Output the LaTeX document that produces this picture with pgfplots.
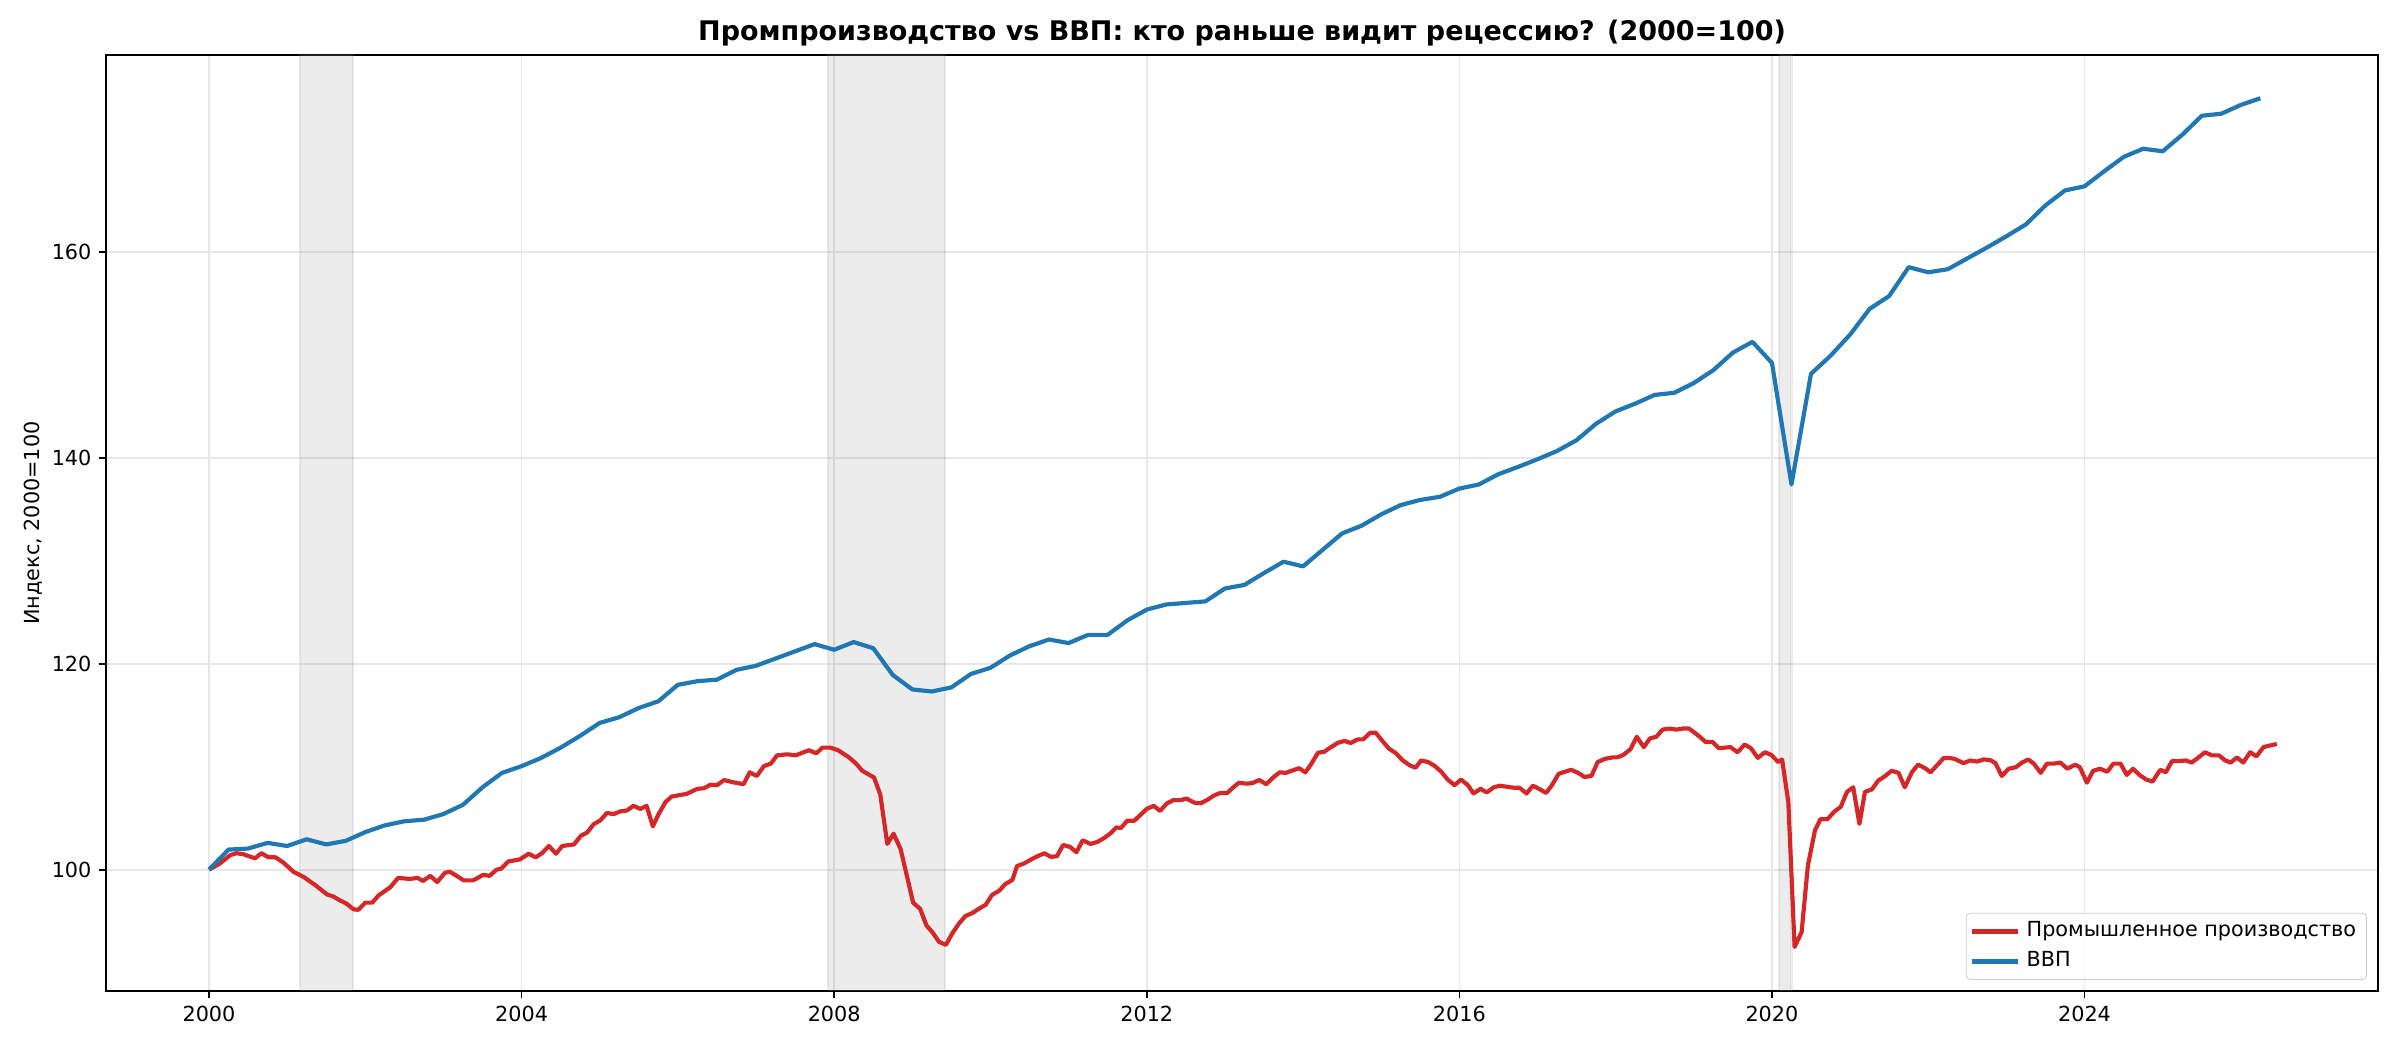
\documentclass[border=0pt]{standalone}
\usepackage{fontspec}
\setmainfont{DejaVu Sans}
\usepackage{pgfplots}
\pgfplotsset{compat=1.18}
\definecolor{ipred}{HTML}{D62728}
\definecolor{gdpblue}{HTML}{1F77B4}
\definecolor{gridc}{HTML}{E7E7E7}
\begin{document}
\begin{tikzpicture}
\useasboundingbox (0,0) rectangle (1152bp,504bp);
\begin{axis}[
  name=ax,
  at={(50.88bp,28.32bp)}, anchor=south west,
  scale only axis, width=1090.56bp, height=449.28bp,
  xmin=1998.682, xmax=2027.755, ymin=88.22, ymax=179.1,
  xtick={2000,2004,...,2024}, ytick={100,120,140,160},
  /pgf/number format/1000 sep={},
  /pgf/number format/assume math mode=true,
  tick label style={font=\fontsize{10}{12}\selectfont},
  tick align=outside, major tick length=3.5bp, tick pos=left,
  tick style={black, line width=0.8bp},
  axis line style={black, line width=0.8bp},
  grid=major, major grid style={gridc, line width=0.8bp},
  ylabel={Индекс, 2000=100},
  ylabel style={at={(axis description cs:-0.0321,0.5)}, anchor=center, font=\fontsize{10}{12}\selectfont},
  every axis title/.style={at={(0.5,1)}, anchor=base, yshift=6.72bp, font=\bfseries\fontsize{13}{15}\selectfont},
  title={Промпроизводство vs ВВП: кто раньше видит рецессию? (2000=100)},
  legend style={at={(1,0)}, anchor=south east, xshift=-5.3bp, yshift=5.3bp,
    draw=black!20, rounded corners=2bp, fill=white, fill opacity=0.8, text opacity=1,
    font=\fontsize{10}{12}\selectfont, inner xsep=2bp, inner ysep=1.5bp,
    nodes={text height=7.5bp, text depth=2.5bp, inner ysep=2.2bp, inner xsep=3bp}},
  legend cell align=left,
  legend image code/.code={\draw[#1] (0bp,0bp) -- (22bp,0bp);},
]
\addplot[forget plot, fill=gray, fill opacity=0.15, draw=gray, draw opacity=0.15, line width=1bp]
  coordinates {(2001.17,88.22) (2001.17,179.1) (2001.84,179.1) (2001.84,88.22)} -- cycle;
\addplot[forget plot, fill=gray, fill opacity=0.15, draw=gray, draw opacity=0.15, line width=1bp]
  coordinates {(2007.92,88.22) (2007.92,179.1) (2009.42,179.1) (2009.42,88.22)} -- cycle;
\addplot[forget plot, fill=gray, fill opacity=0.15, draw=gray, draw opacity=0.15, line width=1bp]
  coordinates {(2020.09,88.22) (2020.09,179.1) (2020.25,179.1) (2020.25,88.22)} -- cycle;

\addplot[ipred, line width=2bp, line join=round] coordinates {
(2000.00,100.0) (2000.14,100.6) (2000.27,101.4) (2000.35,101.6) (2000.44,101.5) (2000.59,101.1)
(2000.67,101.6) (2000.76,101.2) (2000.85,101.2) (2000.95,100.7) (2001.08,99.8) (2001.21,99.3)
(2001.36,98.5) (2001.51,97.6) (2001.59,97.4) (2001.68,97.0) (2001.76,96.7) (2001.85,96.15)
(2001.91,96.1) (2002.00,96.8) (2002.09,96.8) (2002.17,97.5) (2002.32,98.3) (2002.42,99.2)
(2002.57,99.1) (2002.67,99.2) (2002.74,98.9) (2002.83,99.4) (2002.92,98.8) (2003.02,99.7)
(2003.08,99.8) (2003.17,99.4) (2003.26,98.96) (2003.38,98.96) (2003.51,99.5) (2003.59,99.4)
(2003.68,100.0) (2003.74,100.1) (2003.83,100.8) (2003.98,101.0) (2004.09,101.55) (2004.18,101.2)
(2004.26,101.6) (2004.35,102.3) (2004.44,101.55) (2004.52,102.3) (2004.67,102.45) (2004.76,103.3)
(2004.84,103.6) (2004.92,104.4) (2005.01,104.8) (2005.09,105.5) (2005.18,105.4) (2005.26,105.65)
(2005.35,105.75) (2005.43,106.2) (2005.52,105.9) (2005.60,106.2) (2005.68,104.2) (2005.75,105.35)
(2005.84,106.55) (2005.92,107.1) (2006.03,107.25) (2006.11,107.35) (2006.25,107.85) (2006.33,107.9)
(2006.42,108.25) (2006.50,108.2) (2006.59,108.7) (2006.70,108.5) (2006.84,108.3) (2006.92,109.45)
(2007.01,109.1) (2007.10,110.05) (2007.19,110.3) (2007.27,111.1) (2007.40,111.2) (2007.51,111.1)
(2007.59,111.35) (2007.68,111.6) (2007.77,111.3) (2007.85,111.85) (2007.95,111.85) (2008.05,111.6)
(2008.19,110.9) (2008.28,110.3) (2008.36,109.6) (2008.51,108.95) (2008.59,107.3) (2008.68,102.5)
(2008.76,103.5) (2008.85,102.0) (2008.94,99.1) (2009.01,96.8) (2009.10,96.2) (2009.18,94.6)
(2009.27,93.8) (2009.34,93.0) (2009.43,92.7) (2009.51,93.8) (2009.60,94.8) (2009.68,95.5)
(2009.77,95.8) (2009.85,96.2) (2009.94,96.6) (2010.02,97.55) (2010.11,97.95) (2010.19,98.6)
(2010.28,99.0) (2010.34,100.35) (2010.43,100.6) (2010.51,100.95) (2010.60,101.3) (2010.69,101.6)
(2010.77,101.25) (2010.85,101.3) (2010.93,102.4) (2011.02,102.2) (2011.10,101.7) (2011.18,102.85)
(2011.28,102.5) (2011.37,102.7) (2011.45,103.05) (2011.54,103.55) (2011.61,104.1) (2011.67,104.05)
(2011.75,104.75) (2011.84,104.75) (2011.93,105.4) (2012.00,105.9) (2012.09,106.2) (2012.17,105.7)
(2012.26,106.45) (2012.34,106.75) (2012.43,106.75) (2012.51,106.9) (2012.61,106.5) (2012.69,106.45)
(2012.78,106.8) (2012.86,107.2) (2012.94,107.45) (2013.03,107.45) (2013.10,107.95) (2013.18,108.45)
(2013.27,108.35) (2013.35,108.4) (2013.44,108.7) (2013.53,108.3) (2013.61,108.9) (2013.70,109.45)
(2013.78,109.4) (2013.87,109.65) (2013.95,109.85) (2014.03,109.45) (2014.10,110.2) (2014.19,111.35)
(2014.27,111.45) (2014.36,111.9) (2014.44,112.3) (2014.53,112.5) (2014.61,112.3) (2014.70,112.65)
(2014.77,112.65) (2014.86,113.3) (2014.93,113.3) (2015.02,112.45) (2015.10,111.75) (2015.19,111.3)
(2015.27,110.65) (2015.36,110.15) (2015.44,109.9) (2015.51,110.6) (2015.60,110.45) (2015.68,110.1)
(2015.77,109.5) (2015.85,108.75) (2015.94,108.2) (2016.02,108.75) (2016.11,108.2) (2016.18,107.4)
(2016.27,107.85) (2016.35,107.5) (2016.44,108.0) (2016.52,108.15) (2016.61,108.05) (2016.70,107.95)
(2016.77,107.95) (2016.86,107.4) (2016.94,108.15) (2017.02,107.85) (2017.11,107.45) (2017.18,108.15)
(2017.27,109.3) (2017.43,109.7) (2017.52,109.4) (2017.60,109.0) (2017.69,109.1) (2017.77,110.45)
(2017.86,110.75) (2017.96,110.9) (2018.02,110.9) (2018.10,111.15) (2018.19,111.7) (2018.27,112.9)
(2018.36,111.9) (2018.44,112.75) (2018.52,112.9) (2018.60,113.6) (2018.69,113.7) (2018.78,113.6)
(2018.86,113.7) (2018.94,113.7) (2019.07,112.95) (2019.15,112.4) (2019.24,112.4) (2019.32,111.8)
(2019.40,111.85) (2019.47,111.9) (2019.56,111.4) (2019.65,112.15) (2019.73,111.8) (2019.82,110.85)
(2019.91,111.4) (2019.99,111.15) (2020.08,110.45) (2020.13,110.7) (2020.21,106.55) (2020.29,92.5)
(2020.38,93.95) (2020.46,100.4) (2020.55,103.8) (2020.62,104.9) (2020.71,104.9) (2020.80,105.65)
(2020.88,106.1) (2020.96,107.55) (2021.04,108.0) (2021.12,104.45) (2021.19,107.55) (2021.28,107.8)
(2021.36,108.65) (2021.45,109.1) (2021.53,109.6) (2021.62,109.4) (2021.70,108.0) (2021.79,109.45)
(2021.87,110.2) (2021.96,109.85) (2022.03,109.45) (2022.12,110.2) (2022.20,110.85) (2022.27,110.85)
(2022.34,110.75) (2022.45,110.35) (2022.54,110.6) (2022.62,110.5) (2022.71,110.7) (2022.79,110.65)
(2022.86,110.35) (2022.94,109.1) (2023.03,109.8) (2023.12,109.95) (2023.20,110.4) (2023.28,110.7)
(2023.35,110.3) (2023.44,109.4) (2023.52,110.3) (2023.61,110.3) (2023.69,110.4) (2023.78,109.8)
(2023.88,110.2) (2023.94,109.95) (2024.03,108.45) (2024.11,109.6) (2024.20,109.8) (2024.29,109.5)
(2024.37,110.3) (2024.46,110.3) (2024.54,109.2) (2024.62,109.8) (2024.71,109.15) (2024.79,108.75)
(2024.87,108.55) (2024.97,109.7) (2025.04,109.45) (2025.12,110.55) (2025.21,110.55) (2025.30,110.6)
(2025.37,110.4) (2025.46,110.9) (2025.54,111.4) (2025.63,111.1) (2025.72,111.1) (2025.80,110.6)
(2025.87,110.4) (2025.95,110.9) (2026.03,110.4) (2026.12,111.4) (2026.20,111.0) (2026.29,111.9)
(2026.37,112.05) (2026.46,112.2)
};
\addlegendentry{Промышленное производство}

\addplot[gdpblue, line width=2bp, line join=round] coordinates {
(2000.00,100.0) (2000.25,101.95) (2000.50,102.05) (2000.75,102.6) (2001.00,102.3) (2001.25,102.95)
(2001.50,102.45) (2001.75,102.8) (2002.00,103.65) (2002.25,104.3) (2002.50,104.7) (2002.75,104.85)
(2003.00,105.4) (2003.25,106.3) (2003.50,108.0) (2003.75,109.4) (2004.00,110.05) (2004.25,110.85)
(2004.50,111.85) (2004.75,113.0) (2005.00,114.25) (2005.25,114.8) (2005.50,115.7) (2005.75,116.35)
(2006.00,117.95) (2006.25,118.3) (2006.50,118.45) (2006.75,119.4) (2007.00,119.8) (2007.25,120.5)
(2007.50,121.2) (2007.75,121.9) (2008.00,121.35) (2008.25,122.1) (2008.50,121.5) (2008.75,118.9)
(2009.00,117.5) (2009.25,117.3) (2009.50,117.7) (2009.75,119.0) (2010.00,119.6) (2010.25,120.8)
(2010.50,121.7) (2010.75,122.35) (2011.00,122.0) (2011.25,122.8) (2011.50,122.8) (2011.75,124.2)
(2012.00,125.25) (2012.25,125.75) (2012.50,125.9) (2012.75,126.05) (2013.00,127.3) (2013.25,127.65)
(2013.50,128.8) (2013.75,129.9) (2014.00,129.45) (2014.25,131.05) (2014.50,132.65) (2014.75,133.4)
(2015.00,134.5) (2015.25,135.4) (2015.50,135.9) (2015.75,136.2) (2016.00,137.0) (2016.25,137.4)
(2016.50,138.4) (2016.75,139.1) (2017.00,139.85) (2017.25,140.65) (2017.50,141.7) (2017.75,143.3)
(2018.00,144.5) (2018.25,145.25) (2018.50,146.1) (2018.75,146.3) (2019.00,147.25) (2019.25,148.5)
(2019.50,150.2) (2019.75,151.25) (2020.00,149.2) (2020.25,137.4) (2020.50,148.15) (2020.75,149.9)
(2021.00,151.95) (2021.25,154.45) (2021.50,155.7) (2021.75,158.5) (2022.00,158.0) (2022.25,158.3)
(2022.50,159.35) (2022.75,160.4) (2023.00,161.5) (2023.25,162.65) (2023.50,164.5) (2023.75,165.95)
(2024.00,166.35) (2024.25,167.8) (2024.50,169.2) (2024.75,170.0) (2025.00,169.75) (2025.25,171.35)
(2025.50,173.2) (2025.75,173.4) (2026.00,174.25) (2026.25,174.9)
};
\addlegendentry{ВВП}
\end{axis}
\end{tikzpicture}
\end{document}
